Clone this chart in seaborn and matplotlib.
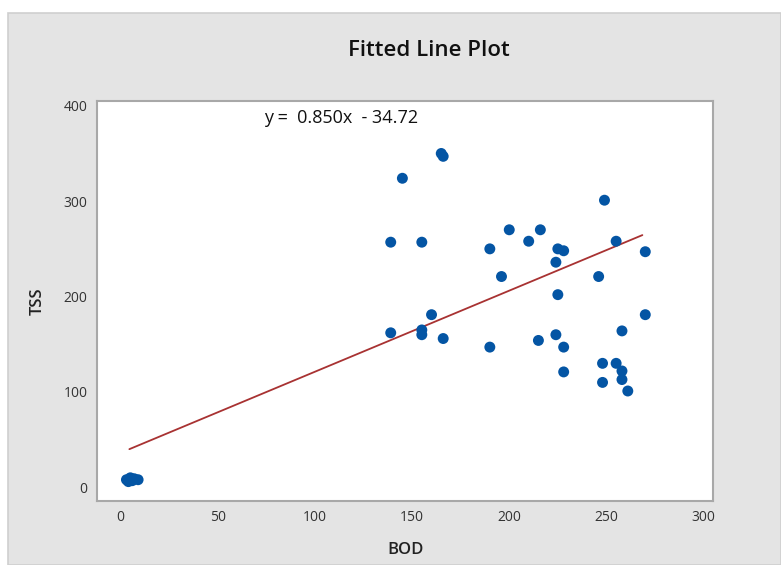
# -*- coding: utf-8 -*-
"""Fitted line plot of TSS against BOD."""

import numpy as np
import pandas as pd
import matplotlib
matplotlib.use("Agg")
import matplotlib.pyplot as plt
from matplotlib.patches import Rectangle
import seaborn as sns

# data
bod = [3, 5, 7, 9, 4, 6,
       165, 166, 145, 249, 200, 216, 139, 155, 210, 255, 190, 225, 228, 270,
       224, 196, 246, 225, 160, 270, 258, 139, 155, 155, 166, 224, 215, 190,
       228, 248, 255, 258, 228, 258, 248, 261]
tss = [8, 10, 9, 8, 6, 7,
       350, 347, 324, 301, 270, 270, 257, 257, 258, 258, 250, 250, 248, 247,
       236, 221, 221, 202, 181, 181, 164, 162, 165, 160, 156, 160, 154, 147,
       147, 130, 130, 122, 121, 113, 110, 101]

# fitted line as drawn in the chart, and the equation text shown on it
fit_slope = 0.850
fit_intercept = 36.2
equation = "y =  0.850x  - 34.72"

x_ticks = [0, 50, 100, 150, 200, 250, 300]
y_ticks = [0, 100, 200, 300, 400]

df = pd.DataFrame({"BOD": bod, "TSS": tss})
line_x = np.array([min(bod) + 1.5, max(bod) - 1.5])
line_df = pd.DataFrame({"BOD": line_x, "TSS": fit_slope * line_x + fit_intercept})

sns.set_style("white")
plt.rcParams["font.family"] = ["Open Sans", "DejaVu Sans"]

fig = plt.figure(figsize=(7.81, 5.65), dpi=100)
fig.patch.set_facecolor("white")
# grey panel behind the chart
fig.patches.append(Rectangle((8 / 781, 0), 1 - 8 / 781, (565 - 13) / 565,
                             transform=fig.transFigure, facecolor="#e4e4e4",
                             edgecolor="#cfcfcf", linewidth=1.2, zorder=-5))

ax = fig.add_axes([97.3 / 781, 1 - 500.7 / 565, (713.3 - 97.3) / 781, (500.7 - 101) / 565])
ax.set_zorder(1)
ax.set_facecolor("white")

sns.lineplot(data=line_df, x="BOD", y="TSS", ax=ax, color="#a83232", linewidth=1.3)
sns.scatterplot(data=df, x="BOD", y="TSS", ax=ax, color="#0455a4", s=62,
                edgecolor="none", zorder=3)

ax.set_xlim(-12, 305)
ax.set_ylim(-14, 405)
ax.set_xticks(x_ticks)
ax.set_yticks(y_ticks)
ax.tick_params(axis="both", length=4, width=1, color="#999999", labelsize=10,
               labelcolor="#333333", pad=3, direction="out")
for sp in ax.spines.values():
    sp.set_color("#a8a8a8")
    sp.set_linewidth(1.5)

ax.set_xlabel("BOD", fontsize=12, fontweight="semibold", color="#222222", labelpad=12)
ax.set_ylabel("TSS", fontsize=12, fontweight="semibold", color="#222222", labelpad=13)

ax.text(74, 387, equation, fontsize=13, color="#111111", va="center", ha="left")

fig.text(429 / 781, 1 - 50 / 565, "Fitted Line Plot", fontsize=16,
         fontweight="semibold", color="#111111", ha="center", va="center",
         zorder=2)

fig.savefig("out.png", dpi=100)
